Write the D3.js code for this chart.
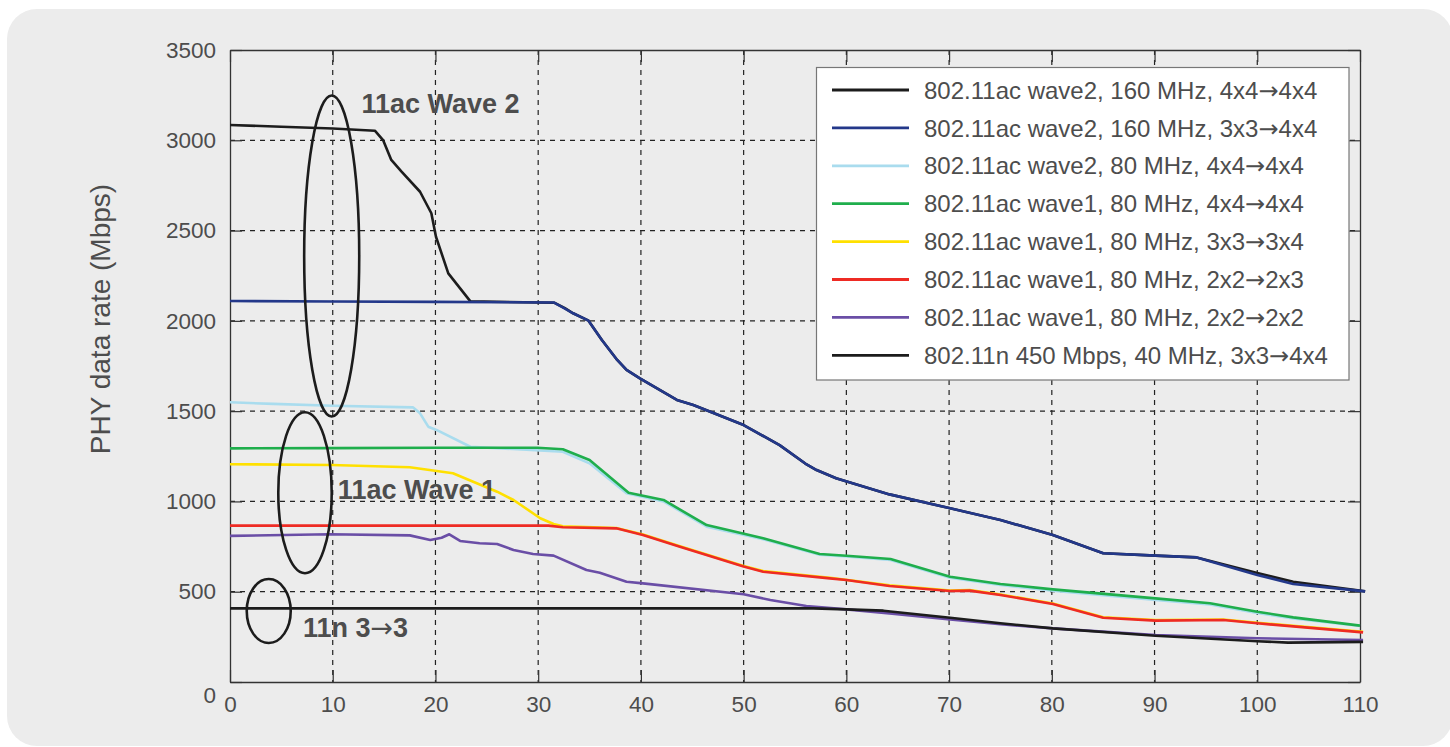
<!DOCTYPE html>
<html>
<head>
<meta charset="utf-8">
<script src="https://cdn.jsdelivr.net/npm/d3@7"></script>
<style>
  body { margin: 0; background: #fff; }
  text { font-family: "Liberation Sans", Arial, sans-serif; fill: #4d4d4d; }
</style>
</head>
<body>
<div id="chart"></div>
<script>
// Series values, [distance, PHY rate in Mbps]
const wave2_160_4x4 = [[0,3085],[5,3075],[10,3065],[14.1,3053],[14.9,3001],[15.7,2891],[16.7,2826],[18.5,2715],[19.6,2596],[20.05,2466],[21.25,2263],[23.4,2108],[31.6,2100],[32.6,2070],[33.4,2042],[34.9,2001],[36.2,1894],[37.6,1790],[38.6,1728],[39.9,1682],[43.5,1562],[45.1,1534],[50,1423],[53.5,1312],[56,1210],[57.1,1174],[59,1128],[64.2,1039],[70.1,962],[75,897],[80.1,814],[85,713],[90.1,700],[94.1,690],[100,604],[103.5,555],[110.5,502]];
const wave2_160_3x3 = [[0,2110],[10,2107],[20,2105],[31.5,2102],[32.6,2068],[33.4,2042],[34.9,2001],[36.2,1894],[37.6,1790],[38.6,1728],[39.9,1682],[43.5,1562],[45.1,1534],[50,1423],[53.5,1312],[56,1210],[57.1,1174],[59,1128],[64.2,1039],[70.1,962],[75,897],[80.1,814],[85,713],[90.1,700],[94.1,690],[100,593],[103.5,543],[110.5,502]];
const wave2_80_4x4 = [[0,1549],[4.2,1540],[10,1530],[17.8,1521],[18.5,1488],[19.3,1414],[20.1,1396],[23.4,1303],[32.4,1275],[35,1211],[38.6,1045],[42.2,1000],[46.4,860],[51.9,790],[57.4,705],[60,695],[64.3,676],[70.1,578],[75,538],[80.1,505],[90.1,454],[95.4,430],[100,382],[103.5,352],[110,310]];
const wave1_80_4x4 = [[0,1294],[10,1295],[20,1297],[29.9,1297],[32.4,1289],[35,1229],[38.8,1048],[42.2,1008],[46.4,869],[51.9,796],[57.4,709],[60,699],[64.3,681],[70.1,583],[75,543],[80.1,513],[90.1,463],[95.4,436],[100,389],[103.5,358],[110,312]];
const wave1_80_3x3 = [[0,1206],[9.9,1202],[17.5,1189],[21.7,1156],[26,1054],[27.6,1008],[30.2,907],[31.5,875],[32.4,862],[37.6,853],[40.2,817],[43.8,752],[50,642],[51.9,614],[58.4,577],[64.2,535],[70.1,507],[72,509],[75,485],[80.1,435],[85,359],[90.1,343],[96.7,346],[100,328],[110.3,278]];
const wave1_80_2x2_2x3 = [[0,866],[10,866],[20,866],[31,866],[32.4,857],[37.6,851],[40.2,814],[43.8,749],[50,639],[51.9,611],[58.4,574],[60,565],[64.2,532],[70.1,504],[72,506],[75,482],[80.1,432],[85,356],[90.1,340],[96.7,343],[100,325],[110.3,275]];
const wave1_80_2x2_2x2 = [[0,809],[9.7,818],[17.5,812],[19.5,786],[20.6,799],[21.35,818],[22.4,781],[24.3,768],[26,764],[27.6,731],[29.5,709],[31.5,700],[34.7,620],[36,605],[38.6,555],[40.2,546],[50,486],[52.6,454],[56.1,421],[60,402],[64.2,380],[70.1,347],[75,320],[80.1,297],[90.1,260],[100,242],[110.3,233]];
const n450_40_3x3 = [[0,408],[10,408],[20,408],[30,408],[40,408],[50,408],[56.8,408],[60,402],[63.6,395],[70.1,356],[75,325],[80.1,297],[90.1,256],[100,226],[103,218],[110.3,222]];

const seriesNames = [
  "802.11ac wave2, 160 MHz, 4x4\u21924x4",
  "802.11ac wave2, 160 MHz, 3x3\u21924x4",
  "802.11ac wave2, 80 MHz, 4x4\u21924x4",
  "802.11ac wave1, 80 MHz, 4x4\u21924x4",
  "802.11ac wave1, 80 MHz, 3x3\u21923x4",
  "802.11ac wave1, 80 MHz, 2x2\u21922x3",
  "802.11ac wave1, 80 MHz, 2x2\u21922x2",
  "802.11n 450 Mbps, 40 MHz, 3x3\u21924x4"
];
const seriesValues = [wave2_160_4x4, wave2_160_3x3, wave2_80_4x4, wave1_80_4x4, wave1_80_3x3, wave1_80_2x2_2x3, wave1_80_2x2_2x2, n450_40_3x3];
const seriesColors = ["#1c1c1c", "#23388a", "#a9dcee", "#1fae4c", "#ffe000", "#ee2b24", "#6a4ea6", "#1c1c1c"];

const xTicks = [0, 10, 20, 30, 40, 50, 60, 70, 80, 90, 100, 110];
const yTicks = [0, 500, 1000, 1500, 2000, 2500, 3000, 3500];

// annotations in data units: [cx, cy, rx, ry] and [label, x, y]
const annotEllipses = [[9.9, 2359, 2.68, 889], [7.3, 1048, 2.6, 446], [3.77, 393, 2.14, 177]];
const annotLabels = [["11ac Wave 2", 12.8, 3153], ["11ac Wave 1", 10.5, 1012], ["11n 3\u21923", 7.1, 248]];

// dimensions
const width = 1450;
const height = 747;
const margin = { top: 50, right: 90, bottom: 65, left: 230 };
const w = width - margin.left - margin.right;
const h = height - margin.top - margin.bottom;

const root = d3.select("#chart")
  .append("svg")
  .attr("width", width)
  .attr("height", height);

// grey rounded panel
root.append("rect")
  .attr("x", 7).attr("y", 9)
  .attr("width", 1446).attr("height", 737)
  .attr("rx", 30)
  .attr("fill", "#ececec");

const svg = root.append("g")
  .attr("transform", `translate(${margin.left}, ${margin.top})`);

const x = d3.scaleLinear().domain([0, 110]).range([0, w]);
const y = d3.scaleLinear().domain([0, 3500]).range([h, 0]);

// writes a label, putting the arrow in a font where it sits mid-height
function arrowText(sel, str) {
  str.split("\u2192").forEach((part, i) => {
    if (i > 0) sel.append("tspan").style("font-family", '"DejaVu Sans", sans-serif').style("font-weight", "normal").text("\u2192");
    sel.append("tspan").text(part);
  });
}

// dashed grid
svg.append("g")
  .selectAll("line")
  .data(xTicks.filter(d => d > 0 && d < 110))
  .enter().append("line")
  .attr("x1", d => x(d)).attr("x2", d => x(d))
  .attr("y1", 0).attr("y2", h)
  .attr("stroke", "#222").attr("stroke-width", 1.2)
  .attr("stroke-dasharray", "5,5");

svg.append("g")
  .selectAll("line")
  .data(yTicks.filter(d => d > 0 && d < 3500))
  .enter().append("line")
  .attr("x1", 0).attr("x2", w)
  .attr("y1", d => y(d)).attr("y2", d => y(d))
  .attr("stroke", "#222").attr("stroke-width", 1.2)
  .attr("stroke-dasharray", "5,5");

// axes, ticks pointing inward
svg.append("g")
  .attr("transform", `translate(0, ${h})`)
  .call(d3.axisBottom(x).tickValues(xTicks).tickSizeInner(-12).tickSizeOuter(0).tickPadding(14).tickFormat(d3.format("d")));
const yAxis = svg.append("g")
  .call(d3.axisLeft(y).tickValues(yTicks).tickSizeInner(-12).tickSizeOuter(0).tickPadding(14).tickFormat(d3.format("d")));
svg.append("g")
  .call(d3.axisTop(x).tickValues(xTicks).tickSizeInner(-12).tickSizeOuter(0).tickFormat(""));
svg.append("g")
  .attr("transform", `translate(${w}, 0)`)
  .call(d3.axisRight(y).tickValues(yTicks).tickSizeInner(-12).tickSizeOuter(0).tickFormat(""));

svg.selectAll(".domain").attr("stroke", "#333").attr("stroke-width", 1.3);
svg.selectAll(".tick line").attr("stroke", "#333").attr("stroke-width", 1.2);
svg.selectAll(".tick text")
  .style("font-family", '"Liberation Sans", Arial, sans-serif')
  .style("font-size", "22.5px")
  .attr("fill", "#4d4d4d");
// the zero on the y axis sits a little low in the original
yAxis.selectAll(".tick").filter(d => d === 0).select("text").attr("dy", "0.9em");

// lines
const line = d3.line()
  .x(d => x(d[0]))
  .y(d => y(d[1]));

svg.selectAll(".series")
  .data(seriesValues)
  .enter()
  .append("path")
  .attr("class", "series")
  .attr("d", d => line(d))
  .attr("fill", "none")
  .attr("stroke", (d, i) => seriesColors[i])
  .attr("stroke-width", 2.6)
  .attr("stroke-linejoin", "round");

// annotation ellipses and labels
svg.selectAll(".annot")
  .data(annotEllipses)
  .enter()
  .append("ellipse")
  .attr("class", "annot")
  .attr("cx", d => x(d[0]))
  .attr("cy", d => y(d[1]))
  .attr("rx", d => x(d[0] + d[2]) - x(d[0]))
  .attr("ry", d => y(d[1] - d[3]) - y(d[1]))
  .attr("fill", "none")
  .attr("stroke", "#1c1c1c")
  .attr("stroke-width", 2.6);

svg.selectAll(".annot-label")
  .data(annotLabels)
  .enter()
  .append("text")
  .attr("class", "annot-label")
  .attr("x", d => x(d[1]))
  .attr("y", d => y(d[2]))
  .style("font-size", "27px")
  .style("font-weight", "bold")
  .each(function(d) { arrowText(d3.select(this), d[0]); });

// y axis title
root.append("text")
  .attr("transform", "translate(110, 319) rotate(-90)")
  .attr("text-anchor", "middle")
  .style("font-size", "28px")
  .text("PHY data rate (Mbps)");

// legend
const legend = root.append("g")
  .attr("transform", "translate(816.5, 67.5)");

legend.append("rect")
  .attr("width", 532.5)
  .attr("height", 312.5)
  .attr("fill", "#fff")
  .attr("stroke", "#777")
  .attr("stroke-width", 1.2);

const rows = legend.selectAll(".row")
  .data(seriesNames)
  .enter()
  .append("g")
  .attr("class", "row")
  .attr("transform", (d, i) => `translate(0, ${22.5 + i * 37.9})`);

rows.append("line")
  .attr("x1", 15.5).attr("x2", 92.5)
  .attr("stroke", (d, i) => seriesColors[i])
  .attr("stroke-width", 2.8);

rows.append("text")
  .attr("x", 107.5)
  .attr("dy", "0.36em")
  .style("font-size", "24px")
  .each(function(d) { arrowText(d3.select(this), d); });
</script>
</body>
</html>
